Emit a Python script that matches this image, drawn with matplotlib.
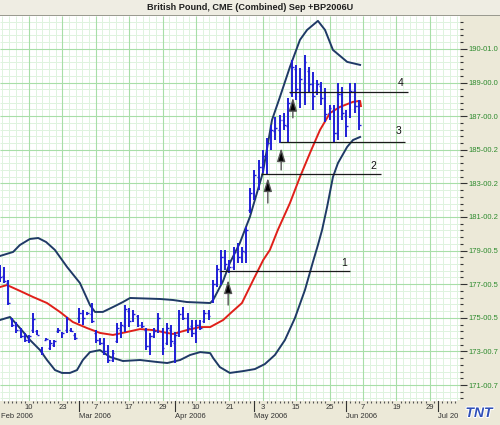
import numpy as np
import matplotlib
matplotlib.use("Agg")
import matplotlib.pyplot as plt
import matplotlib.patheffects as pe
from matplotlib.patches import Rectangle
from matplotlib.ticker import FixedLocator, MultipleLocator
from matplotlib.transforms import blended_transform_factory

plt.rcParams['font.family'] = ['Liberation Sans', 'DejaVu Sans']

# daily bars, x = trading day number (1 = 1 Feb 2006)
opens = [177.9, 177.5, 177.1, 174.9, 174.6, 174.3, 173.9, 173.7, 174.3, 174.2,
         173.1, 173.7, 173.2, 173.4, 174.2, 173.9, 174.3, 174.3, 174.0, 175.0,
         175.3, 175.2, 175.2, 174.1, 173.7, 173.5, 173.0, 172.5, 173.6, 174.3,
         174.5, 175.4, 174.9, 175.1, 174.6, 174.3, 173.3, 173.9, 174.3, 174.2,
         173.5, 174.3, 173.5, 174.1, 175.2, 175.0, 174.5, 174.1, 174.6, 174.8,
         175.3, 176.0, 177.0, 177.8, 178.6, 178.2, 178.0, 178.9, 178.6, 178.9,
         181.4, 182.4, 183.4, 184.0, 184.5, 185.4, 186.1, 186.2, 186.8, 186.4,
         188.4, 189.8, 188.6, 189.0, 189.7, 188.9, 188.5, 188.8, 188.1, 187.2,
         187.3, 186.0, 188.3, 187.0, 187.0, 188.5, 187.6]
highs = [178.14, 178.03, 177.25, 174.99, 174.75, 174.39, 174.10, 173.98, 175.29, 174.27,
         173.26, 173.80, 173.68, 173.68, 174.39, 174.16, 175.05, 174.39, 174.10, 175.58,
         175.46, 175.35, 175.88, 174.27, 173.80, 173.80, 173.38, 173.08, 174.69, 174.75,
         175.76, 175.58, 175.46, 175.17, 174.75, 174.39, 174.10, 174.39, 175.29, 174.39,
         174.69, 174.57, 174.16, 175.46, 175.64, 175.29, 174.87, 174.87, 174.87, 175.46,
         175.46, 177.25, 178.14, 179.04, 179.04, 178.44, 179.21, 179.45, 179.21, 180.40,
         182.73, 183.80, 184.39, 184.99, 185.70, 186.48, 186.95, 187.07, 187.19, 188.08,
         190.35, 190.05, 189.87, 190.64, 189.93, 189.63, 189.15, 189.04, 188.68, 187.67,
         187.67, 188.98, 188.74, 187.37, 188.98, 188.98, 187.96]
lows = [177.13, 177.07, 175.76, 174.45, 174.10, 173.80, 173.56, 173.50, 174.10, 173.98,
        172.79, 173.68, 173.08, 173.26, 174.10, 173.80, 174.10, 174.16, 173.68, 174.69,
        174.57, 175.17, 174.69, 173.50, 173.38, 172.79, 172.31, 172.37, 173.50, 173.80,
        174.16, 174.45, 174.75, 174.45, 174.39, 173.08, 172.79, 173.80, 174.10, 172.79,
        173.38, 173.26, 172.31, 173.86, 174.86, 174.10, 173.86, 173.50, 174.27, 174.69,
        174.87, 175.88, 176.83, 176.95, 177.85, 177.67, 177.85, 178.26, 178.26, 178.26,
        181.24, 182.01, 182.61, 183.62, 183.50, 184.99, 185.58, 185.40, 186.18, 185.46,
        188.14, 187.96, 187.49, 187.67, 188.44, 187.37, 188.26, 187.67, 186.65, 186.77,
        185.46, 185.58, 186.77, 185.76, 186.89, 187.19, 186.18]
closes = [177.4, 177.2, 175.9, 174.6, 174.3, 173.9, 173.7, 173.9, 174.9, 174.0,
          172.9, 173.75, 173.5, 173.6, 174.3, 174.1, 174.9, 174.2, 173.8, 175.3,
          175.0, 175.3, 174.8, 173.7, 173.5, 173.0, 172.5, 172.9, 174.4, 174.6,
          175.5, 174.8, 175.2, 174.6, 174.5, 173.3, 173.9, 174.2, 175.0, 173.2,
          174.4, 173.6, 174.0, 175.2, 175.0, 174.4, 174.1, 174.6, 174.4, 175.3,
          175.1, 177.0, 177.9, 178.6, 178.2, 178.0, 178.9, 178.6, 179.0, 180.2,
          182.4, 183.5, 184.0, 184.6, 185.4, 186.2, 186.3, 186.8, 186.5, 187.8,
          189.9, 188.6, 189.2, 190.2, 188.9, 188.2, 188.9, 188.1, 187.1, 187.5,
          186.0, 188.3, 187.2, 186.4, 188.5, 187.6, 186.5]

# bollinger bands and moving average
upper_x = [1.05, 4.2, 5.8, 8.2, 10.2, 12.1, 14.2, 17.1, 20.2, 22.6, 23.8, 25.7, 28.6,
           30.5, 32.2, 39.4, 42.5, 45.8, 51.4, 52.1, 54.5, 56.1, 58.5, 59.7, 60.9,
           64.0, 66.2, 68.1, 70.5, 72.9, 74.6, 77.2, 78.9, 80.8, 84.2, 87.3]
upper_y = [178.68, 178.92, 179.33, 179.69, 179.75, 179.51, 179.04, 178.03, 177.07, 175.76,
           175.35, 175.35, 175.70, 175.94, 176.18, 176.12, 176.06, 175.94, 175.88, 176.06,
           177.20, 178.26, 179.45, 180.23, 181.00, 183.62, 186.77, 188.14, 189.93, 191.54,
           192.13, 192.67, 192.13, 190.94, 190.23, 190.05]
lower_x = [1.05, 3.45, 5.84, 8.24, 10.64, 12.31, 14.23, 15.9, 17.8, 19.5, 20.9, 22.6,
           25.0, 27.4, 30.5, 34.6, 38.7, 41.1, 44.2, 46.6, 49.0, 51.4, 52.1, 53.7, 56.1,
           59.3, 62.1, 64.5, 66.9, 69.3, 71.7, 74.1, 76.0, 77.2, 78.2, 79.4, 80.8, 82.0,
           84.2, 85.6, 87.3]
lower_y = [174.87, 175.05, 174.39, 173.68, 173.08, 172.49, 171.89, 171.72, 171.72, 171.89,
           172.49, 172.96, 173.08, 172.67, 172.43, 172.49, 172.37, 172.31, 172.49, 172.79,
           172.96, 172.90, 172.61, 172.07, 171.72, 171.83, 171.95, 172.25, 172.79, 173.68,
           174.99, 176.66, 178.32, 179.33, 180.23, 181.60, 183.38, 184.21, 185.17, 185.58,
           185.76]
ma_x = [1.05, 2.73, 5.84, 8.96, 12.31, 15.4, 18.5, 21.9, 25.0, 28.1, 31.5, 34.6, 37.7,
        41.1, 42.5, 45.8, 49.0, 51.4, 54.5, 56.6, 59.0, 61.7, 64.1, 65.7, 67.6, 70.5,
        72.9, 75.3, 77.7, 80.1, 82.5, 85.6, 87.3, 87.5]
ma_y = [176.83, 176.95, 176.60, 176.24, 175.88, 175.35, 174.75, 174.39, 174.10, 173.98,
        174.16, 174.33, 174.27, 174.10, 174.04, 174.27, 174.45, 174.45, 174.87, 175.35,
        175.88, 177.25, 178.44, 179.04, 180.23, 181.83, 183.38, 184.81, 186.18, 187.19,
        187.55, 187.85, 187.91, 187.6]

# hand-drawn levels and arrows
level_y = [177.79, 183.56, 185.46, 188.44]
level_x0 = [53.7, 63.6, 68.1, 70.3]
level_x1 = [84.9, 92.3, 98.1, 98.8]
level_names = ['1', '2', '3', '4']
level_label_x = [83.5, 90.4, 96.4, 96.9]
level_label_y = [178.26, 184.04, 186.1, 188.98]
arrow_x = [55.7, 65.2, 68.4, 71.2]
arrow_tail = [175.76, 181.83, 183.8, 186.9]
arrow_tip = [177.25, 183.32, 185.1, 188.1]

ytick_vals = [171, 173, 175, 177, 179, 181, 183, 185, 187, 189, 191]
ytick_labels = ['171-00.7', '173-00.7', '175-00.5', '177-00.5', '179-00.5', '181-00.2',
                '183-00.2', '185-00.2', '187-00.0', '189-00.0', '190-01.0']
xtick_vals = [8, 16, 24, 32, 40, 48, 56, 64, 72, 80, 88, 96, 104]
xtick_labels = ['10', '23', '7', '17', '29', '10', '21', '3', '15', '25', '7', '19', '29']
month_pos = [1.3, 20, 43, 62, 84, 106]
month_labels = ['Feb 2006', 'Mar 2006', 'Apr 2006', 'May 2006', 'Jun 2006', 'Jul 2006']

beige = '#ECE9D8'
fig = plt.figure(figsize=(5, 4.25), dpi=100, facecolor=beige)
ax = fig.add_axes([0, 24 / 425, 0.92, 385 / 425])
ax.set_facecolor('white')
x0, x1 = 1.054, 111.23
y0, y1 = 170.05, 192.96
ax.set_xlim(x0, x1)
ax.set_ylim(y0, y1)

# graph-paper grid
ax.vlines(np.arange(1.6, x1, 1.6), y0, y1, color='#DFF3DF', lw=0.7, zorder=0)
ax.hlines(np.arange(170.2, y1, 0.4), x0, x1, color='#DFF3DF', lw=0.7, zorder=0)
ax.vlines(np.arange(8, x1, 8), y0, y1, color='#A8DEA8', lw=0.8, zorder=0)
ax.hlines(np.arange(171, y1, 2), x0, x1, color='#A8DEA8', lw=0.8, zorder=0)

# bands and average
ax.plot(upper_x, upper_y, color='#1F3A66', lw=1.4, zorder=2)
ax.plot(lower_x, lower_y, color='#1F3A66', lw=1.4, zorder=2)
ax.plot(ma_x, ma_y, color='#E0201A', lw=1.4, zorder=2)

# OHLC bars
xs = np.arange(1, len(highs) + 1)
bar_col = '#1F1FD6'
ax.vlines(xs, lows, highs, color=bar_col, lw=1.4, zorder=3)
ax.hlines(opens, xs - 0.45, xs, color=bar_col, lw=1.0, zorder=3)
ax.hlines(closes, xs, xs + 0.45, color=bar_col, lw=1.0, zorder=3)

# levels
for y, a, b, name, lx, ly in zip(level_y, level_x0, level_x1, level_names,
                                 level_label_x, level_label_y):
    ax.hlines(y, a, b, color='#1A1A1A', lw=0.9, zorder=4)
    ax.text(lx, ly, name, fontsize=7.5, ha='center', va='center', color='#111111', zorder=4)
for x, t0, t1 in zip(arrow_x, arrow_tail, arrow_tip):
    ax.annotate('', xy=(x, t1), xytext=(x, t0),
                arrowprops=dict(arrowstyle='-|>,head_length=0.8,head_width=0.25',
                                fc='black', ec='#555555', lw=1.0, shrinkA=0, shrinkB=0,
                                mutation_scale=10), zorder=5)

for s in ax.spines.values():
    s.set_visible(False)

# right price axis
ax.yaxis.tick_right()
ax.set_yticks(ytick_vals)
ax.set_yticklabels(ytick_labels)
ax.yaxis.set_minor_locator(FixedLocator(np.arange(170.2, y1, 0.4)))
ax.tick_params(axis='y', which='major', direction='out', length=5, width=0.8,
               color='#333333', labelsize=5.5, labelcolor='#2E8B2E', pad=1)
ax.tick_params(axis='y', which='minor', direction='out', length=2.2, width=0.8,
               color='#333333')

# date axis
ax.set_xticks(xtick_vals)
ax.set_xticklabels(xtick_labels)
ax.xaxis.set_minor_locator(MultipleLocator(1))
ax.tick_params(axis='x', which='major', length=0, labelsize=5.5, labelcolor='#333333', pad=2.5)
ax.tick_params(axis='x', which='minor', direction='out', length=1.2, width=0.8,
               color='#555555')
tr = blended_transform_factory(ax.transData, ax.transAxes)
for i, (mx, ml) in enumerate(zip(month_pos, month_labels)):
    ax.text(mx, -0.040, ml, transform=tr, fontsize=5.5, color='#333333',
            ha='left', va='center', clip_on=False)
    if i > 0:
        ax.plot([mx, mx], [0, -0.025], transform=tr, color='#333333', lw=0.8,
                clip_on=False)

# title bar
fig.patches.append(Rectangle((0, 1 - 16 / 425), 1, 16 / 425, transform=fig.transFigure,
                             facecolor='#EFEDE3', edgecolor='none', zorder=5))
fig.patches.append(Rectangle((0, 1 - 16 / 425), 1, 1 / 425, transform=fig.transFigure,
                             facecolor='#9A9A90', edgecolor='none', zorder=5))
fig.text(0.5, 1 - 8 / 425, 'British Pound, CME (Combined) Sep +BP2006U',
         ha='center', va='center', fontsize=6.6, fontweight='bold', color='#202020', zorder=6)

# logo corner
fig.patches.append(Rectangle((458 / 500, 0), 42 / 500, 25 / 425, transform=fig.transFigure,
                             facecolor=beige, edgecolor='none', zorder=5))
fig.text(479 / 500, 12 / 425, 'TNT', ha='center', va='center', fontsize=10,
         fontweight='bold', fontstyle='italic', color='#2F4FB8', zorder=6,
         path_effects=[pe.withStroke(linewidth=1.5, foreground='white')])

fig.savefig('out.png', dpi=100, facecolor=beige)
